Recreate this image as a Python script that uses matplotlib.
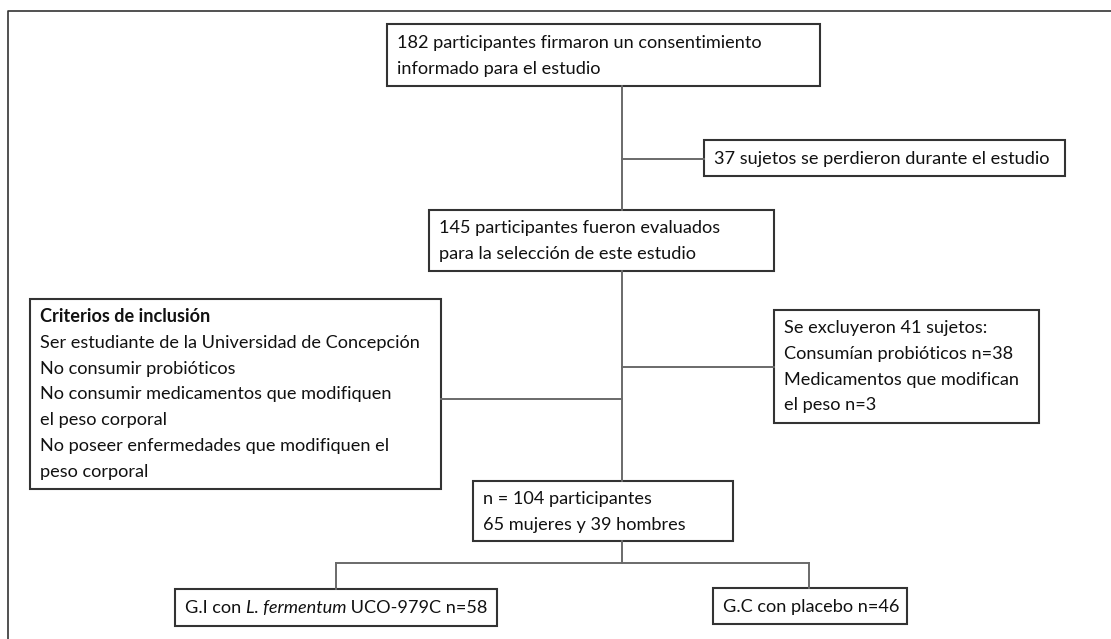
import matplotlib
matplotlib.use("Agg")
import matplotlib.pyplot as plt
from matplotlib.patches import Rectangle

plt.rcParams['font.family'] = ['Lato', 'DejaVu Sans']

# box texts
consent_lines = ["182 participantes firmaron un consentimiento", "informado para el estudio"]
lost_lines = ["37 sujetos se perdieron durante el estudio"]
evaluated_lines = ["145 participantes fueron evaluados", "para la selección de este estudio"]
inclusion_title = "Criterios de inclusión"
inclusion_lines = ["Ser estudiante de la Universidad de Concepción",
                   "No consumir probióticos",
                   "No consumir medicamentos que modifiquen",
                   "el peso corporal",
                   "No poseer enfermedades que modifiquen el",
                   "peso corporal"]
excluded_lines = ["Se excluyeron 41 sujetos:", "Consumían probióticos n=38",
                  "Medicamentos que modifican", "el peso n=3"]
final_lines = ["n = 104 participantes", "65 mujeres y 39 hombres"]
gi_parts = ["G.I con ", "L. fermentum", " UCO-979C n=58"]
gc_lines = ["G.C con placebo n=46"]

# layout in pixel coordinates (x0, y0, x1, y1)
box_consent = (387, 24, 820, 86)
box_lost = (704, 140, 1065, 176)
box_eval = (429, 210, 774, 271)
box_incl = (30, 299, 441, 489)
box_excl = (774, 310, 1039, 423)
box_final = (473, 481, 733, 541)
box_gi = (175, 589, 497, 626)
box_gc = (713, 588, 907, 624)

FS = 13.1
TXT = '#111111'
EDGE = '#333333'
LINE = '#6a6a6a'
PAD = 10
LH = 25.8

fig = plt.figure(figsize=(11.11, 6.39), dpi=100)
ax = fig.add_axes([0, 0, 1, 1])
ax.set_xlim(0, 1111)
ax.set_ylim(639, 0)
ax.axis('off')


def draw_box(b):
    ax.add_patch(Rectangle((b[0], b[1]), b[2] - b[0], b[3] - b[1],
                           fill=False, edgecolor=EDGE, linewidth=1.5))


def draw_lines(b, lines, first_y, weight=None):
    for i, s in enumerate(lines):
        ax.text(b[0] + PAD, first_y + i * LH, s, fontsize=FS, color=TXT,
                va='center', ha='left', fontweight=weight or 'normal')


# outer frame (cropped at right and bottom)
ax.plot([8, 8, 1111], [639, 11, 11], color='#333333', linewidth=1.2)

# connectors
trunk_x = 622
ax.plot([trunk_x, trunk_x], [box_consent[3], box_eval[1]], color=LINE, lw=1.4)
ax.plot([trunk_x, box_lost[0]], [159, 159], color=LINE, lw=1.4)
ax.plot([trunk_x, trunk_x], [box_eval[3], box_final[1]], color=LINE, lw=1.4)
ax.plot([box_incl[2], trunk_x], [399, 399], color=LINE, lw=1.4)
ax.plot([trunk_x, box_excl[0]], [367, 367], color=LINE, lw=1.4)
ax.plot([trunk_x, trunk_x], [box_final[3], 563], color=LINE, lw=1.4)
ax.plot([336, 809], [563, 563], color=LINE, lw=1.4)
ax.plot([336, 336], [563, box_gi[1]], color=LINE, lw=1.4)
ax.plot([809, 809], [563, box_gc[1]], color=LINE, lw=1.4)

for b in [box_consent, box_lost, box_eval, box_incl, box_excl, box_final, box_gi, box_gc]:
    draw_box(b)

draw_lines(box_consent, consent_lines, 43)
draw_lines(box_lost, lost_lines, 159)
draw_lines(box_eval, evaluated_lines, 228)
draw_lines(box_incl, [inclusion_title], 317, weight='bold')
draw_lines(box_incl, inclusion_lines, 317 + LH)
draw_lines(box_excl, excluded_lines, 328)
draw_lines(box_final, final_lines, 499)
draw_lines(box_gc, gc_lines, 607)

# G.I box with italic species name
t = ax.text(box_gi[0] + PAD, 608, gi_parts[0], fontsize=FS, color=TXT,
            va='center', ha='left')
for k, s in enumerate(gi_parts[1:]):
    t = ax.annotate(s, xy=(1, 0), xycoords=t, va='bottom', ha='left',
                    fontsize=FS, color=TXT,
                    fontstyle='italic' if k == 0 else 'normal')

fig.savefig('out.png', dpi=100, facecolor='white')
